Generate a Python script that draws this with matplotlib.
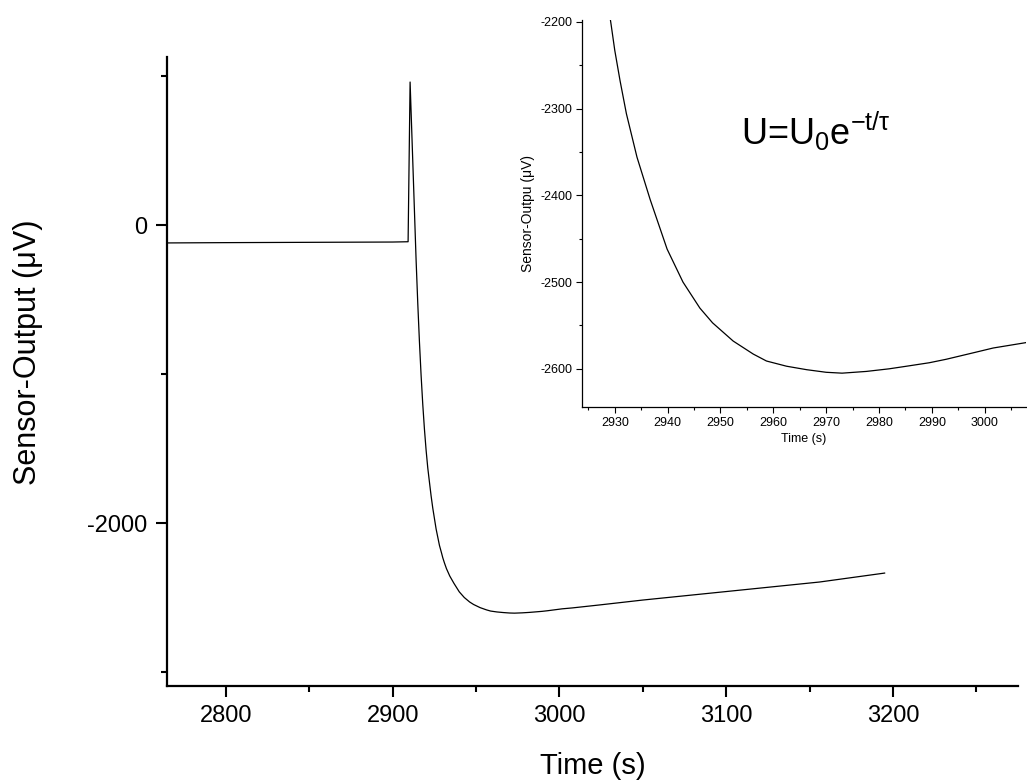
import matplotlib
matplotlib.use("Agg")
import matplotlib.pyplot as plt
from matplotlib import ticker

plt.rcParams['font.family'] = ['Liberation Sans', 'DejaVu Sans']
plt.rcParams['mathtext.fontset'] = 'custom'
plt.rcParams['mathtext.rm'] = 'Liberation Sans'
plt.rcParams['mathtext.it'] = 'Liberation Sans'
plt.rcParams['axes.unicode_minus'] = False

# Sensor trace (time in s, output in uV)
time_s = [2765, 2800, 2850, 2900, 2909.2, 2910.4, 2912, 2914, 2915, 2916,
          2917, 2918, 2919, 2920, 2921, 2922, 2923, 2924, 2926, 2928,
          2929.3, 2930.0, 2931, 2932.2, 2934.2, 2936.7, 2939.9, 2942.9,
          2946.1, 2948.5, 2952.4, 2956.2, 2958.7, 2962.5, 2966.3, 2970,
          2973, 2977.6, 2981.9, 2985.2, 2989.5, 2992.7, 2998.2, 3001.6,
          3007.6, 3024, 3050, 3100, 3156, 3195]
output_uv = [-120, -118, -116, -114, -112, 960, 430, -235, -525, -783,
             -1009, -1204, -1370, -1511, -1630, -1725, -1818, -1900, -2040, -2150,
             -2203, -2233, -2268, -2306, -2356, -2405, -2462, -2500,
             -2530, -2547, -2568, -2583, -2591, -2597, -2601, -2604,
             -2605, -2603, -2600, -2597, -2593, -2589, -2581, -2576,
             -2570, -2550, -2517, -2460, -2396, -2336]

formula = r'U=U$_\mathregular{0}$e$^\mathregular{-t/\tau}$'

FIG_W, FIG_H = 1027, 781
fig = plt.figure(figsize=(FIG_W / 100, FIG_H / 100), dpi=100, facecolor='white')


def box(left, top, right, bottom):
    """pixel box -> figure fraction rect"""
    return [left / FIG_W, 1 - bottom / FIG_H, (right - left) / FIG_W, (bottom - top) / FIG_H]


# Main plot
ax = fig.add_axes(box(167, 57, 1018, 686))
ax.plot(time_s, output_uv, color='black', linewidth=0.9)
ax.set_xlim(2764.6, 3275)
ax.set_ylim(-3094, 1128)

ax.xaxis.set_major_locator(ticker.MultipleLocator(100))
ax.xaxis.set_minor_locator(ticker.MultipleLocator(50))
ax.yaxis.set_major_locator(ticker.MultipleLocator(2000))
ax.yaxis.set_minor_locator(ticker.MultipleLocator(1000))

ax.tick_params(which='major', direction='out', length=8, width=1.5, labelsize=17, pad=6)
ax.tick_params(which='minor', direction='out', length=4, width=1.5)

for side in ['top', 'right']:
    ax.spines[side].set_visible(False)
for side in ['left', 'bottom']:
    ax.spines[side].set_linewidth(1.6)

ax.set_xlabel('Time (s)', fontsize=21)
ax.xaxis.set_label_coords(0.5, -0.105)
ax.set_ylabel('Sensor-Output (\u03bcV)', fontsize=22)
ax.yaxis.set_label_coords(-0.146, 0.531)

# Inset zoom on the decay
axin = fig.add_axes(box(582, 20, 1026, 407))
axin.plot(time_s, output_uv, color='black', linewidth=0.9)
axin.set_xlim(2923.8, 3007.8)
axin.set_ylim(-2644, -2198)

axin.xaxis.set_major_locator(ticker.MultipleLocator(10))
axin.xaxis.set_minor_locator(ticker.MultipleLocator(5))
axin.yaxis.set_major_locator(ticker.MultipleLocator(100))
axin.yaxis.set_minor_locator(ticker.MultipleLocator(50))

axin.tick_params(which='major', direction='out', length=4, width=0.8, labelsize=9, pad=3)
axin.tick_params(which='minor', direction='out', length=2, width=0.8)

for side in ['top', 'right']:
    axin.spines[side].set_visible(False)
for side in ['left', 'bottom']:
    axin.spines[side].set_linewidth(0.9)

axin.set_xlabel('Time (s)', fontsize=9, labelpad=3)
axin.set_ylabel('Sensor-Outpu (\u03bcV)', fontsize=10, labelpad=4)

fig.text(816 / FIG_W, 1 - 131 / FIG_H, formula, fontsize=26, ha='center', va='center')

fig.savefig('out.png', dpi=100, facecolor='white')
